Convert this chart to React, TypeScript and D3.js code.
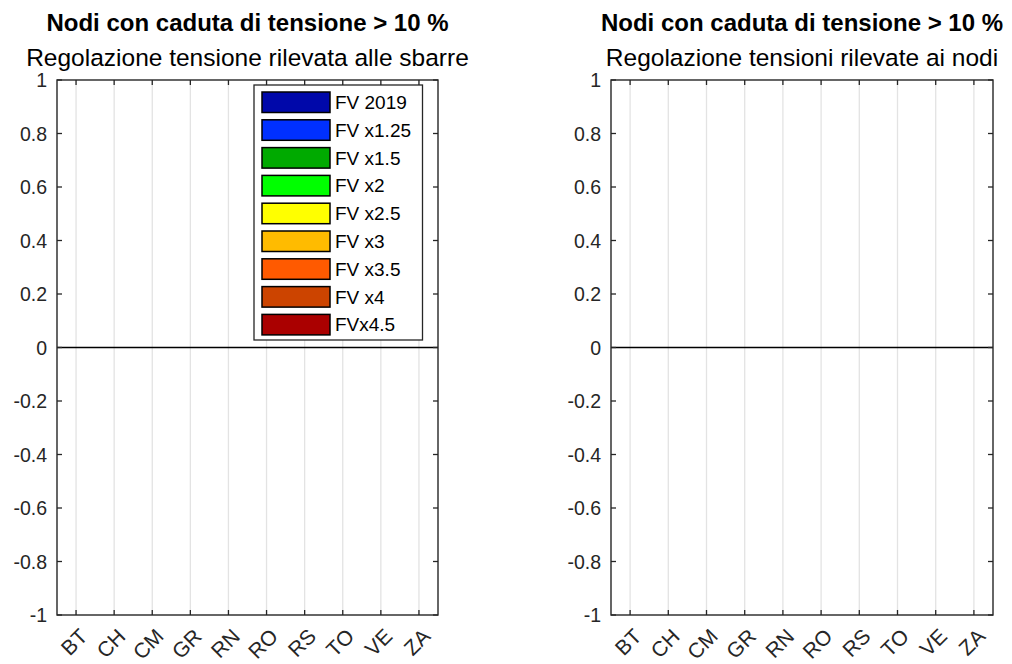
import React from "react";
import * as d3 from "d3";

const categories = ["BT", "CH", "CM", "GR", "RN", "RO", "RS", "TO", "VE", "ZA"];
const seriesNames = ["FV 2019", "FV x1.25", "FV x1.5", "FV x2", "FV x2.5", "FV x3", "FV x3.5", "FV x4", "FVx4.5"];
const seriesColors = ["#0008AA", "#0030FF", "#00AA00", "#00FF00", "#FFFF00", "#FFBB00", "#FF5A00", "#CC4400", "#AA0000"];
// values per series (rows) for each category (columns): left panel
const valuesSbarre = [
  [0, 0, 0, 0, 0, 0, 0, 0, 0, 0],
  [0, 0, 0, 0, 0, 0, 0, 0, 0, 0],
  [0, 0, 0, 0, 0, 0, 0, 0, 0, 0],
  [0, 0, 0, 0, 0, 0, 0, 0, 0, 0],
  [0, 0, 0, 0, 0, 0, 0, 0, 0, 0],
  [0, 0, 0, 0, 0, 0, 0, 0, 0, 0],
  [0, 0, 0, 0, 0, 0, 0, 0, 0, 0],
  [0, 0, 0, 0, 0, 0, 0, 0, 0, 0],
  [0, 0, 0, 0, 0, 0, 0, 0, 0, 0],
];
// right panel
const valuesNodi = [
  [0, 0, 0, 0, 0, 0, 0, 0, 0, 0],
  [0, 0, 0, 0, 0, 0, 0, 0, 0, 0],
  [0, 0, 0, 0, 0, 0, 0, 0, 0, 0],
  [0, 0, 0, 0, 0, 0, 0, 0, 0, 0],
  [0, 0, 0, 0, 0, 0, 0, 0, 0, 0],
  [0, 0, 0, 0, 0, 0, 0, 0, 0, 0],
  [0, 0, 0, 0, 0, 0, 0, 0, 0, 0],
  [0, 0, 0, 0, 0, 0, 0, 0, 0, 0],
  [0, 0, 0, 0, 0, 0, 0, 0, 0, 0],
];
const yTicks = [-1, -0.8, -0.6, -0.4, -0.2, 0, 0.2, 0.4, 0.6, 0.8, 1];
const mainTitle = "Nodi con caduta di tensione > 10 %";
const subTitles = ["Regolazione tensione rilevata alle sbarre", "Regolazione tensioni rilevate ai nodi"];

const FONT = "'Liberation Sans', Arial, Helvetica, sans-serif";
const AXIS_COLOR = "#262626";
const GRID_COLOR = "#e3e3e3";

const fmt = (v: number) => {
  const s = d3.format("~g")(Math.round(v * 10) / 10);
  return s.replace("\u2212", "-");
};

type PanelProps = {
  x0: number;
  x1: number;
  values: number[][];
  subtitle: string;
  legend: boolean;
};

const TOP = 80;
const BOTTOM = 615;

function Panel({ x0, x1, values, subtitle, legend }: PanelProps) {
  const x = d3.scaleLinear().domain([0.5, categories.length + 0.5]).range([x0, x1]);
  const y = d3.scaleLinear().domain([-1, 1]).range([BOTTOM, TOP]);
  const groupW = (x(2) - x(1)) * 0.8;
  const xs = d3.scaleBand<number>().domain(d3.range(seriesNames.length)).range([-groupW / 2, groupW / 2]);
  const tickLen = 5;
  const cx = (x0 + x1) / 2;
  return (
    <g>
      {/* grid */}
      {categories.map((c, i) => (
        <line key={"g" + c} x1={x(i + 1)} x2={x(i + 1)} y1={TOP} y2={BOTTOM} stroke={GRID_COLOR} strokeWidth={1.3} />
      ))}
      {/* bars */}
      {values.map((row, s) =>
        row.map((v, i) => (
          <rect
            key={"b" + s + "-" + i}
            x={x(i + 1) + (xs(s) as number)}
            width={xs.bandwidth()}
            y={Math.min(y(v), y(0))}
            height={Math.abs(y(v) - y(0))}
            fill={seriesColors[s]}
            stroke="#000"
            strokeWidth={v === 0 ? 0 : 1}
          />
        ))
      )}
      {/* baseline */}
      <line x1={x0} x2={x1} y1={y(0)} y2={y(0)} stroke="#000" strokeWidth={1.6} />
      {/* x ticks */}
      {categories.map((c, i) => (
        <g key={"xt" + c}>
          <line x1={x(i + 1)} x2={x(i + 1)} y1={BOTTOM} y2={BOTTOM - tickLen} stroke={AXIS_COLOR} strokeWidth={1.3} />
          <line x1={x(i + 1)} x2={x(i + 1)} y1={TOP} y2={TOP + tickLen} stroke={AXIS_COLOR} strokeWidth={1.3} />
          <text
            transform={`translate(${x(i + 1) + 2},${BOTTOM + 12}) rotate(-45)`}
            textAnchor="end"
            dy="0.72em"
            fontSize={21}
            fontFamily={FONT}
            fill={AXIS_COLOR}
          >
            {c}
          </text>
        </g>
      ))}
      {/* y ticks */}
      {yTicks.map((t) => (
        <g key={"yt" + t}>
          <line x1={x0} x2={x0 + tickLen} y1={y(t)} y2={y(t)} stroke={AXIS_COLOR} strokeWidth={1.3} />
          <line x1={x1} x2={x1 - tickLen} y1={y(t)} y2={y(t)} stroke={AXIS_COLOR} strokeWidth={1.3} />
          <text x={x0 - 10} y={y(t)} textAnchor="end" dominantBaseline="central" fontSize={19.5} fontFamily={FONT} fill={AXIS_COLOR}>
            {fmt(t)}
          </text>
        </g>
      ))}
      {/* box */}
      <rect x={x0} y={TOP} width={x1 - x0} height={BOTTOM - TOP} fill="none" stroke={AXIS_COLOR} strokeWidth={1.4} />
      {/* titles */}
      <text x={cx} y={31} textAnchor="middle" fontSize={24} fontWeight="bold" fontFamily={FONT} fill="#000">
        {mainTitle}
      </text>
      <text x={cx} y={66} textAnchor="middle" fontSize={24.5} fontFamily={FONT} fill="#000">
        {subtitle}
      </text>
      {legend && (
        <g>
          <rect x={254} y={85} width={168.5} height={255} fill="#fff" stroke={AXIS_COLOR} strokeWidth={1.3} />
          {seriesNames.map((n, s) => (
            <g key={"l" + n}>
              <rect x={262} y={92 + s * 27.8} width={68} height={20.5} fill={seriesColors[s]} stroke="#000" strokeWidth={1.5} />
              <text x={335} y={92 + s * 27.8 + 10.5} dominantBaseline="central" fontSize={19} fontFamily={FONT} fill="#000">
                {n}
              </text>
            </g>
          ))}
        </g>
      )}
    </g>
  );
}

export default function App() {
  return (
    <svg width={1012} height={664} style={{ position: "absolute", left: 0, top: 0, background: "#fff" }}>
      <rect x={0} y={0} width={1012} height={664} fill="#fff" />
      <Panel x0={57} x1={438} values={valuesSbarre} subtitle={subTitles[0]} legend={true} />
      <Panel x0={611} x1={993} values={valuesNodi} subtitle={subTitles[1]} legend={false} />
    </svg>
  );
}
